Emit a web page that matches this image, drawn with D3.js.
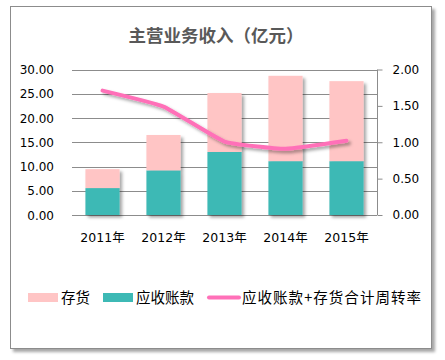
<!DOCTYPE html>
<html><head><meta charset="utf-8">
<script src="https://cdn.jsdelivr.net/npm/d3@7"></script>
<style>body{margin:0;background:#fff;}svg{display:block;}</style>
</head><body>
<script>
const categories = ["2011年","2012年","2013年","2014年","2015年"];
const receivables = [5.55, 9.2, 13.0, 11.1, 11.1];
const inventory = [3.9, 7.3, 12.15, 17.6, 16.5];
const turnover = [1.71, 1.49, 1.01, 0.91, 1.02];
const leftTicks = [0,5,10,15,20,25,30];
const rightTicks = [0,0.5,1,1.5,2];
const seriesNames = ["存货","应收账款","应收账款+存货合计周转率"];
const colors = {inv:"#ffc5c5", rec:"#3db9b5", line:"#ff70b8"};

const W=445,H=360;
const svg=d3.select("body").append("svg").attr("width",W).attr("height",H);
const defs=svg.append("defs");
const f=defs.append("filter").attr("id","sh").attr("x","-20%").attr("y","-20%").attr("width","150%").attr("height","150%");
f.append("feDropShadow").attr("dx",2.5).attr("dy",2.5).attr("stdDeviation",1.5).attr("flood-color","#000").attr("flood-opacity",0.35);
const f2=defs.append("filter").attr("id","fsh").attr("x","-5%").attr("y","-5%").attr("width","110%").attr("height","110%");
f2.append("feDropShadow").attr("dx",3).attr("dy",3).attr("stdDeviation",1.5).attr("flood-color","#000").attr("flood-opacity",0.35);

svg.append("rect").attr("x",10.5).attr("y",6.5).attr("width",421).attr("height",342)
  .attr("fill","#fff").attr("stroke","#8c8c8c").attr("stroke-width",1).attr("filter","url(#fsh)");

svg.append("text").attr("x",216).attr("y",41.5).attr("text-anchor","middle")
  .attr("font-family","'Noto Sans CJK SC'").attr("font-weight","bold").attr("font-size",17.5)
  .attr("fill","#595959").text("主营业务收入（亿元）");

const x0=72,x1=377,yTop=69.5,yBot=215;
const x=d3.scaleBand().domain(categories).range([x0,x1]).paddingInner(0.44).paddingOuter(0.22);
const yL=d3.scaleLinear().domain([0,30]).range([yBot,yTop]);
const yR=d3.scaleLinear().domain([0,2]).range([yBot,yTop]);

// gridlines
svg.append("g").selectAll("line").data(leftTicks).join("line")
  .attr("x1",x0).attr("x2",x1).attr("y1",d=>Math.round(yL(d))+0.5).attr("y2",d=>Math.round(yL(d))+0.5)
  .attr("stroke","#8c8c8c").attr("stroke-width",1);

// left labels
svg.append("g").selectAll("text").data(leftTicks).join("text")
  .attr("x",54).attr("y",d=>yL(d)+4.5).attr("text-anchor","end")
  .attr("font-family","'DejaVu Sans'").attr("font-size",12).attr("fill","#000")
  .text(d=>d3.format(".2f")(d));

// right axis
const ra=svg.append("g").attr("transform",`translate(${x1+0.5},0)`)
  .call(d3.axisRight(yR).tickValues(rightTicks).tickFormat(d3.format(".2f")).tickSize(5).tickPadding(10));
ra.select(".domain").attr("stroke","#8c8c8c").attr("d",`M0,${yTop}V${yBot}`);
ra.selectAll(".tick line").attr("stroke","#8c8c8c");
ra.selectAll(".tick text").attr("font-family","'DejaVu Sans'").attr("font-size",12).attr("fill","#000");

// bars
const bars=svg.append("g").attr("filter","url(#sh)");
bars.selectAll("rect.rec").data(categories).join("rect").attr("class","rec")
  .attr("x",d=>x(d)).attr("width",x.bandwidth())
  .attr("y",(d,i)=>yL(receivables[i])).attr("height",(d,i)=>yL(0)-yL(receivables[i])).attr("fill",colors.rec);
bars.selectAll("rect.inv").data(categories).join("rect").attr("class","inv")
  .attr("x",d=>x(d)).attr("width",x.bandwidth())
  .attr("y",(d,i)=>yL(receivables[i]+inventory[i])).attr("height",(d,i)=>yL(receivables[i])-yL(receivables[i]+inventory[i])).attr("fill",colors.inv);

// x labels
svg.append("g").selectAll("text").data(categories).join("text")
  .attr("x",d=>x(d)+x.bandwidth()/2).attr("y",242).attr("text-anchor","middle")
  .attr("font-family","'DejaVu Sans','Noto Sans CJK SC'").attr("font-size",12.5).attr("fill","#000").text(d=>d);

// line
const line=d3.line().x((d,i)=>x(categories[i])+x.bandwidth()/2).y(d=>yR(d)).curve(d3.curveCardinal.tension(0.6));
svg.append("path").datum(turnover).attr("d",line).attr("fill","none").attr("stroke",colors.line)
  .attr("stroke-width",4).attr("stroke-linecap","round").attr("filter","url(#sh)");

// legend
const lg=svg.append("g").attr("font-family","'Noto Sans CJK SC'").attr("font-size",14.5).attr("fill","#000");
lg.append("rect").attr("x",28).attr("y",293).attr("width",30).attr("height",9).attr("fill",colors.inv);
lg.append("text").attr("x",61).attr("y",302.5).text(seriesNames[0]);
lg.append("rect").attr("x",103).attr("y",293).attr("width",30).attr("height",9).attr("fill",colors.rec);
lg.append("text").attr("x",136).attr("y",302.5).text(seriesNames[1]);
lg.append("line").attr("x1",209).attr("x2",239).attr("y1",297.5).attr("y2",297.5).attr("stroke",colors.line).attr("stroke-width",4).attr("stroke-linecap","round");
lg.append("text").attr("x",242).attr("y",302.5).attr("textLength",179).text(seriesNames[2]);
</script>
</body></html>
